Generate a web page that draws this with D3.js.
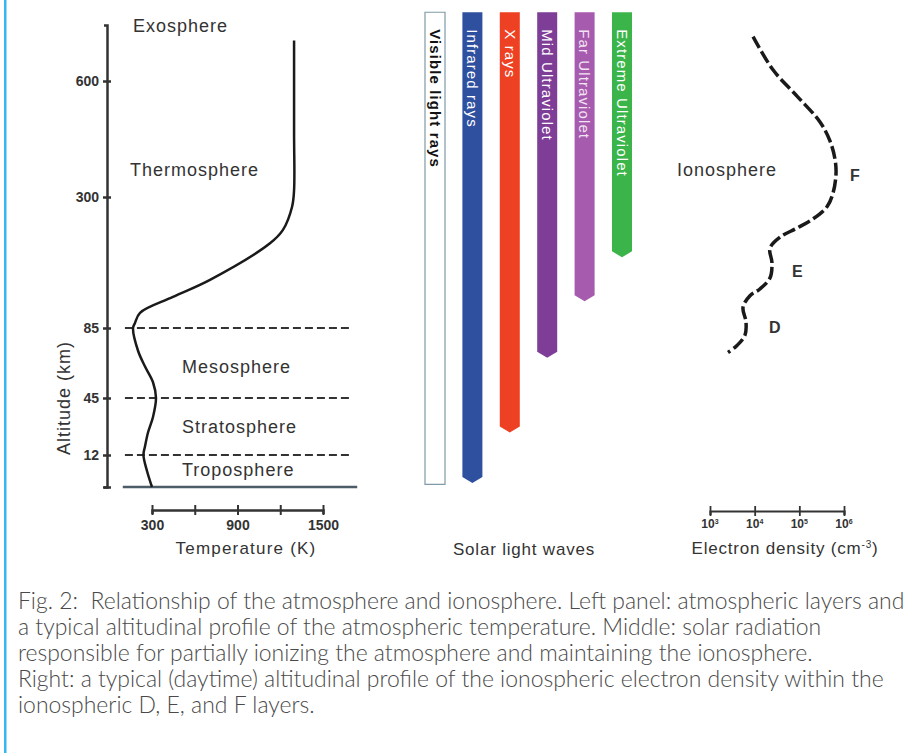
<!DOCTYPE html>
<html>
<head>
<meta charset="utf-8">
<script src="https://cdn.jsdelivr.net/npm/d3@7"></script>
<style>
body { margin: 0; background: #fff; }
text { font-family: "Liberation Sans", Arial, sans-serif; fill: #333; }
</style>
</head>
<body>
<script>
var width = 915, height = 753;

// left panel: atmospheric temperature profile
var altTicks = [0, 12, 45, 85, 300, 600];
var altTickLabels = ["", "12", "45", "85", "300", "600"];
var tempAlt = [0, 6, 12, 17, 25, 34, 45, 54, 63, 72, 85, 93, 110, 136, 164, 224, 246, 284, 318, 466, 705];
var tempK   = [300, 265, 240, 251, 272, 307, 328, 307, 251, 202, 167, 180, 216, 447, 707, 1128, 1219, 1283, 1297, 1297, 1297];
var tempTicks = [300, 600, 900, 1200, 1500];
var tempTickLabels = ["300", "", "900", "", "1500"];
var layerBounds = [12, 45, 85];
var layerNames = ["Exosphere", "Thermosphere", "Mesosphere", "Stratosphere", "Troposphere"];

// middle panel: solar light waves and how deep they reach (km)
var waves = ["Visible light rays", "Infrared rays", "X rays", "Mid Ultraviolet", "Far Ultraviolet", "Extreme Ultraviolet"];
var waveColors = ["#ffffff", "#2f4f9f", "#ee4123", "#7e3d97", "#a65bae", "#3bb54a"];
var waveTextColors = ["#111111", "#ffffff", "#ffffff", "#ffffff", "#f3e3f3", "#ffffff"];
var waveBottomAlt = [1, 1.5, 25, 68, 129, 201];
var waveTopAlt = 778;

// right panel: ionospheric electron density profile
var ionoDensity = [9200, 25700, 88700, 290000, 485000, 628000, 662000, 567000, 416000, 202000, 88700, 36900, 22000, 24400, 22000, 13100, 7850, 5480, 6390, 6080, 4020, 2530];
var ionoAlt     = [715, 629, 561, 494, 445, 398, 359, 310, 284, 264, 249, 234, 216, 192, 167, 149, 138, 119, 95, 81, 75, 71];
var densityTicks = [1e3, 1e4, 1e5, 1e6];
var densityExp = ["3", "4", "5", "6"];

var captionLines = [
  "Fig. 2:  Relationship of the atmosphere and ionosphere. Left panel: atmospheric layers and",
  "a typical altitudinal profile of the atmospheric temperature. Middle: solar radiation",
  "responsible for partially ionizing the atmosphere and maintaining the ionosphere.",
  "Right: a typical (daytime) altitudinal profile of the ionospheric electron density within the",
  "ionospheric D, E, and F layers."
];

var svg = d3.select("body").append("svg")
    .attr("width", width)
    .attr("height", height);

svg.append("rect")
    .attr("x", 4).attr("y", 0)
    .attr("width", 2.5).attr("height", height)
    .attr("fill", "#38b6ef");

// shared altitude scale (not linear, like the drawing)
var y = d3.scaleLinear()
    .domain([0, 12, 45, 85, 300, 600, 745])
    .range([487, 455, 398, 328, 197, 81, 25]);

var xT = d3.scaleLinear().domain([300, 1500]).range([152, 323]);

// ---- left panel
var yAxis = svg.append("g")
    .attr("transform", "translate(107,0)")
    .call(d3.axisLeft(y).tickValues(altTicks).tickSizeOuter(0).tickSize(3)
      .tickFormat(function(d, i) { return altTickLabels[i]; }));
yAxis.select(".domain").attr("stroke", "#333").attr("stroke-width", 2.5);
yAxis.selectAll(".tick line").attr("x1", 4).attr("x2", -4).attr("stroke", "#333").attr("stroke-width", 2.5);
yAxis.selectAll(".tick text")
    .attr("x", -8)
    .style("font-size", "14px").style("font-weight", "bold")
    .attr("fill", "#333");

svg.append("text")
    .attr("transform", "translate(70,398) rotate(-90)")
    .attr("text-anchor", "middle")
    .style("font-size", "18px").style("letter-spacing", "1px")
    .text("Altitude (km)");

svg.selectAll(".bound")
    .data(layerBounds)
    .enter().append("line")
      .attr("class", "bound")
      .attr("x1", xT(110)).attr("x2", xT(1705))
      .attr("y1", function(d) { return y(d); })
      .attr("y2", function(d) { return y(d); })
      .attr("stroke", "#333").attr("stroke-width", 2.2)
      .attr("stroke-dasharray", "8,4");

svg.append("line")
    .attr("x1", xT(95)).attr("x2", xT(1740))
    .attr("y1", y(0)).attr("y2", y(0))
    .attr("stroke", "#4d5d68").attr("stroke-width", 2.5);

var tempLine = d3.line()
    .x(function(d, i) { return xT(tempK[i]); })
    .y(function(d) { return y(d); })
    .curve(d3.curveCatmullRom);

svg.append("path")
    .attr("d", tempLine(tempAlt))
    .attr("fill", "none")
    .attr("stroke", "#1a1a1a")
    .attr("stroke-width", 2.5);

var layerPos = [[133, 32], [130, 176], [182, 373], [182, 433], [182, 476]];
svg.selectAll(".layer")
    .data(layerNames)
    .enter().append("text")
      .attr("class", "layer")
      .attr("x", function(d, i) { return layerPos[i][0]; })
      .attr("y", function(d, i) { return layerPos[i][1]; })
      .style("font-size", "18px").style("letter-spacing", "1px")
      .text(function(d) { return d; });

var xAxis = svg.append("g")
    .attr("transform", "translate(0,510)")
    .call(d3.axisBottom(xT).tickValues(tempTicks).tickSizeOuter(0).tickSize(4)
      .tickFormat(function(d, i) { return tempTickLabels[i]; }));
xAxis.select(".domain").attr("stroke", "#333").attr("stroke-width", 2.5);
xAxis.selectAll(".tick line").attr("y1", -5).attr("y2", 5).attr("stroke", "#333").attr("stroke-width", 2);
xAxis.selectAll(".tick text")
    .attr("y", 10)
    .style("font-size", "14px").style("font-weight", "bold")
    .attr("fill", "#333");

svg.append("text")
    .attr("x", 246).attr("y", 554)
    .attr("text-anchor", "middle")
    .style("font-size", "17px").style("letter-spacing", "1.2px")
    .text("Temperature (K)");

// ---- middle panel
var xW = d3.scaleBand()
    .domain(waves)
    .range([416.3, 640.7])
    .paddingInner(0.465)
    .paddingOuter(0.2325);

function wavePath(d, i) {
  var x0 = xW(d), w = xW.bandwidth(), top = y(waveTopAlt), bot = y(waveBottomAlt[i]);
  if (i === 0) {
    return "M" + x0 + "," + top + "H" + (x0 + w) + "V" + bot + "H" + x0 + "Z";
  }
  return "M" + x0 + "," + top + "H" + (x0 + w) + "V" + (bot - 6) +
    "L" + (x0 + w / 2) + "," + bot + "L" + x0 + "," + (bot - 6) + "Z";
}

svg.selectAll(".wave")
    .data(waves)
    .enter().append("path")
      .attr("class", "wave")
      .attr("d", wavePath)
      .attr("fill", function(d, i) { return waveColors[i]; })
      .attr("stroke", function(d, i) { return i === 0 ? "#7f9aa8" : "none"; })
      .attr("stroke-width", 1.2);

svg.selectAll(".wavelabel")
    .data(waves)
    .enter().append("text")
      .attr("class", "wavelabel")
      .attr("transform", function(d) {
        return "translate(" + (xW(d) + xW.bandwidth() / 2) + "," + (y(waveTopAlt) + 17) + ") rotate(90)";
      })
      .attr("dy", "0.35em")
      .style("font-size", "15px")
      .style("letter-spacing", "1.1px")
      .style("font-weight", function(d, i) { return i === 0 ? "bold" : "normal"; })
      .style("fill", function(d, i) { return waveTextColors[i]; })
      .text(function(d) { return d; });

svg.append("text")
    .attr("x", 524).attr("y", 555)
    .attr("text-anchor", "middle")
    .style("font-size", "17px").style("letter-spacing", "0.8px")
    .text("Solar light waves");

// ---- right panel
var xD = d3.scaleLog().domain([1e3, 1e6]).range([710, 844]);

var ionoLine = d3.line()
    .x(function(d, i) { return xD(ionoDensity[i]); })
    .y(function(d) { return y(d); })
    .curve(d3.curveCatmullRom);

svg.append("path")
    .attr("d", ionoLine(ionoAlt))
    .attr("fill", "none")
    .attr("stroke", "#1a1a1a")
    .attr("stroke-width", 3.5)
    .attr("stroke-dasharray", "13,4");

svg.append("text")
    .attr("x", 677).attr("y", 176)
    .style("font-size", "18px").style("letter-spacing", "1px")
    .text("Ionosphere");

var ionoLetters = [["F", 850, 181], ["E", 792, 277], ["D", 769, 333]];
svg.selectAll(".ionolayer")
    .data(ionoLetters)
    .enter().append("text")
      .attr("class", "ionolayer")
      .attr("x", function(d) { return d[1]; })
      .attr("y", function(d) { return d[2]; })
      .style("font-size", "16px").style("font-weight", "bold")
      .attr("fill", "#222")
      .text(function(d) { return d[0]; });

var dAxis = svg.append("g")
    .attr("transform", "translate(0,511)")
    .call(d3.axisBottom(xD).tickValues(densityTicks).tickSizeOuter(0).tickSize(4).tickFormat(""));
dAxis.select(".domain").attr("stroke", "#333").attr("stroke-width", 2.2);
dAxis.selectAll(".tick line").attr("y1", -5).attr("y2", 5).attr("stroke", "#333").attr("stroke-width", 1.8);

var dLab = svg.selectAll(".dlab")
    .data(densityTicks)
    .enter().append("text")
      .attr("class", "dlab")
      .attr("x", function(d) { return xD(d); })
      .attr("y", 528)
      .attr("text-anchor", "middle")
      .style("font-size", "12px").style("font-weight", "bold");
dLab.append("tspan").text("10");
dLab.append("tspan")
    .attr("dy", -4)
    .style("font-size", "7px")
    .text(function(d, i) { return densityExp[i]; });

var eLab = svg.append("text")
    .attr("x", 785).attr("y", 554)
    .attr("text-anchor", "middle")
    .style("font-size", "17px").style("letter-spacing", "0.8px");
eLab.append("tspan").text("Electron density (cm");
eLab.append("tspan").attr("dy", -6).style("font-size", "10px").text("-3");
eLab.append("tspan").attr("dy", 6).text(")");

// ---- caption
var cap = svg.append("g");
var capText = cap.selectAll(".cap")
    .data(captionLines)
    .enter().append("text")
      .attr("class", "cap")
      .attr("x", 0)
      .attr("y", function(d, i) { return 609 + i * 26; })
      .style("font-family", "Lato, 'Open Sans', sans-serif")
      .style("font-weight", "300")
      .style("font-size", "24px")
      .style("white-space", "pre")
      .style("fill", "#4a4a4a")
      .text(function(d) { return d; });

var w0 = capText.node().getComputedTextLength();
cap.attr("transform", "translate(18,0) scale(" + (887 / w0) + ",1)");
</script>
</body>
</html>
